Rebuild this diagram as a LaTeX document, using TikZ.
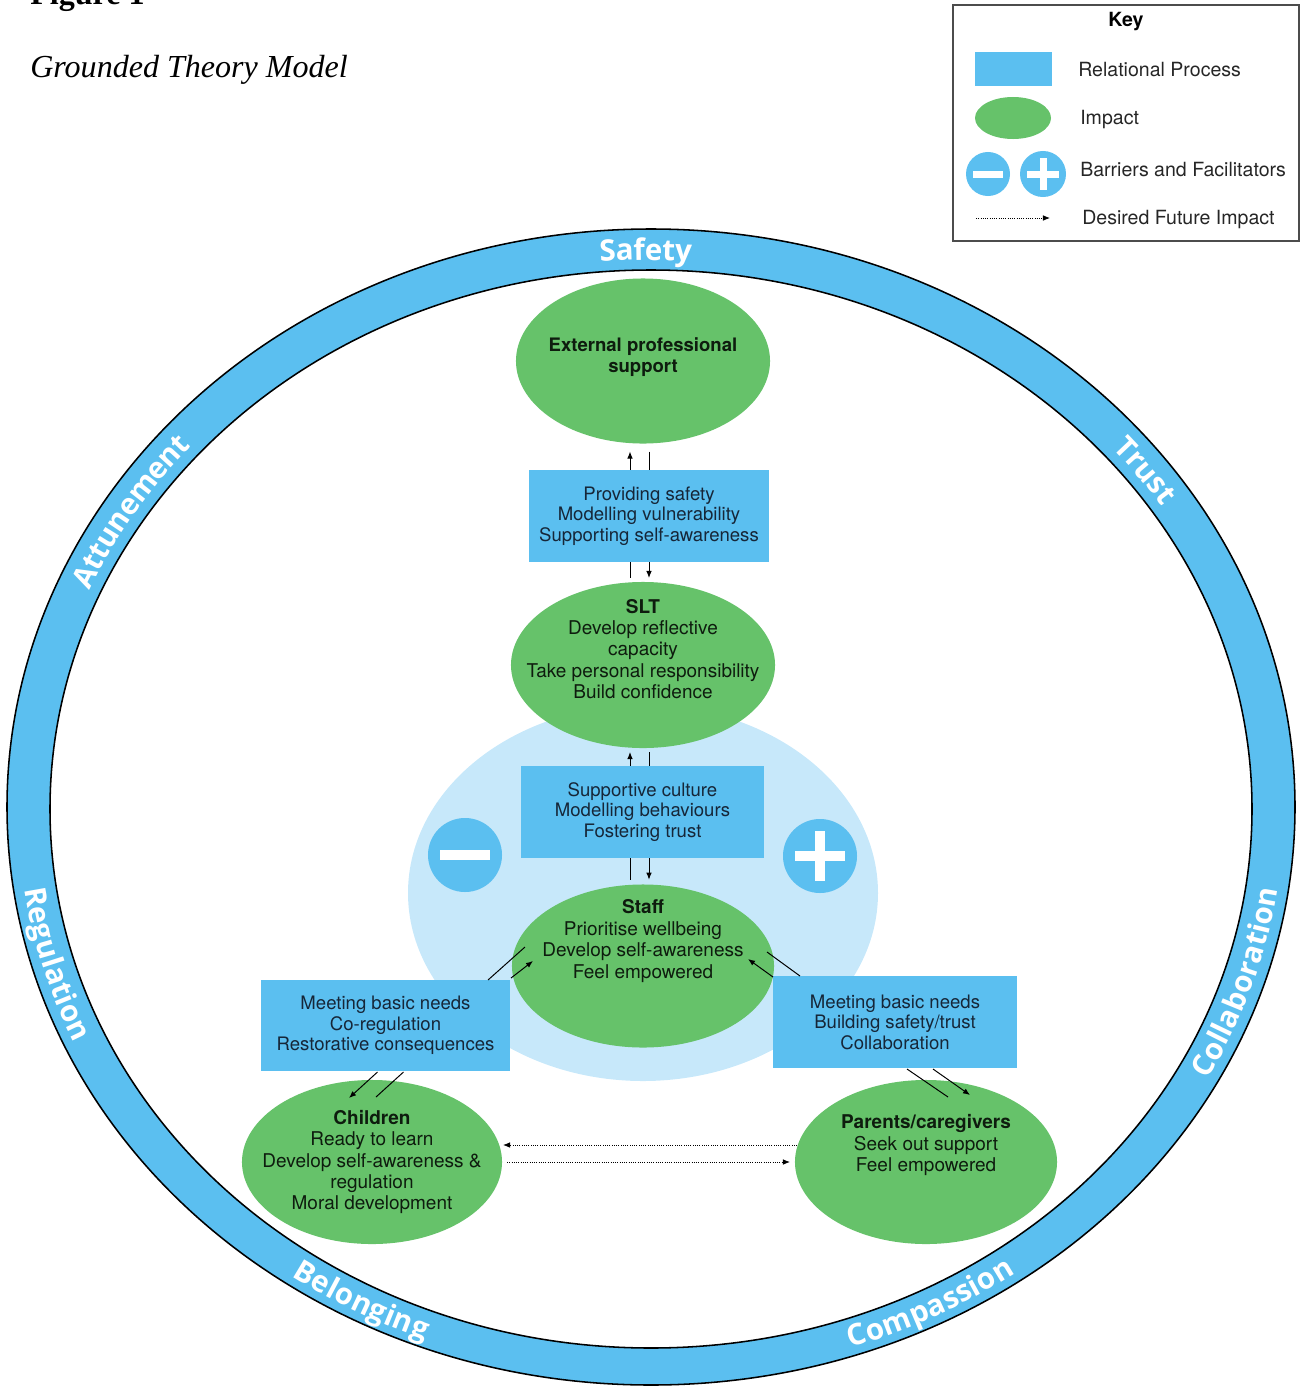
\documentclass[tikz,border=0pt]{standalone}
\usepackage{fontspec}
\setmainfont{Liberation Serif}
\newfontfamily\diagfont{TeX Gyre Heros}
\newfontfamily\ringfont{Open Sans}
\usetikzlibrary{shapes.geometric, arrows.meta, calc, decorations.text}

\definecolor{relblue}{RGB}{91,191,240}
\definecolor{paleblue}{RGB}{199,232,250}
\definecolor{impgreen}{RGB}{102,194,106}
\definecolor{boxink}{RGB}{22,38,56}
\definecolor{impink}{RGB}{14,28,14}

\newcommand{\boxtype}{\diagfont\fontsize{13.2}{14.6}\selectfont}
\newcommand{\imptype}{\diagfont\fontsize{13.5}{15.2}\selectfont}
\newcommand{\keytype}{\diagfont\fontsize{13.9}{15}\selectfont}
\newcommand{\ringtype}{\ringfont\bfseries\fontsize{21}{21}\selectfont\color{white}}

\tikzstyle{process}=[rectangle, fill=relblue, inner sep=0, outer sep=0,
	text=boxink, align=center, font=\boxtype]
\tikzstyle{impact}=[ellipse, fill=impgreen, inner sep=0, outer sep=0]
\tikzstyle{imptext}=[text=impink, align=center, font=\imptype]
\tikzstyle{barrier}=[circle, fill=relblue, inner sep=0, outer sep=0]
\tikzstyle{keylabel}=[anchor=west, inner sep=0, font=\keytype, text=black!85]
\tikzstyle{flow}=[line width=0.7pt, -{Latex[length=5pt, width=4pt]}]
\tikzstyle{link}=[line width=0.7pt]
\tikzstyle{future}=[densely dotted, line width=0.6pt, -{Latex[length=5pt, width=4pt]}]
\tikzset{ringword/.style={decorate, decoration={text along path,
	text={|\ringtype|#1}, text align=center, raise=-7.5pt}}}

\begin{document}
\begin{tikzpicture}[x=0.025cm, y=-0.025cm]
	\useasboundingbox (0,0) rectangle (1302,1387);
	\clip (0,0) rectangle (1302,1387);

	% heading
	\node[anchor=base west, inner sep=0, font=\bfseries\fontsize{22.8}{28}\selectfont] (fignum) at (30,5) {Figure 1};
	\node[anchor=base west, inner sep=0, font=\itshape\fontsize{22.8}{28}\selectfont] (figtitle) at (30,77) {Grounded Theory Model};

	% key
	\draw[draw=black!70, line width=0.8pt] (953,5) rectangle (1299,241);
	\node[font=\keytype\bfseries] (keyhead) at (1126,22) {Key};
	\node[process, minimum width=1.925cm, minimum height=0.85cm] (keyproc) at (1013.5,69) {};
	\node[impact, minimum width=1.9cm, minimum height=1.05cm] (keyimp) at (1013,118) {};
	\node[barrier, minimum size=1.1cm] (keyminus) at (988,174) {};
	\node[barrier, minimum size=1.15cm] (keyplus) at (1043,174) {};
	\fill[white] ($(keyminus)+(-15,-3.5)$) rectangle ($(keyminus)+(15,3.5)$);
	\fill[white] ($(keyplus)+(-16,-3.5)$) rectangle ($(keyplus)+(16,3.5)$);
	\fill[white] ($(keyplus)+(-3.5,-16)$) rectangle ($(keyplus)+(3.5,16)$);
	\coordinate (keyfrom) at (976,218);
	\coordinate (keyto) at (1050,218);
	\draw[future] (keyfrom) -- (keyto);
	\node[keylabel] (keyproct) at (1078,70) {Relational Process};
	\node[keylabel] (keyimpt) at (1080,120) {Impact};
	\node[keylabel] (keybart) at (1080,170) {Barriers and Facilitators};
	\node[keylabel] (keyfutt) at (1082,220) {Desired Future Impact};

	% outer ring of values
	\fill[relblue, even odd rule] (651,807) ellipse [x radius=644, y radius=578]
		(651,809) ellipse [x radius=601, y radius=539];
	\draw[line width=1.1pt] (651,807) ellipse [x radius=644, y radius=578];
	\draw[line width=1.1pt] (651,809) ellipse [x radius=601, y radius=539];

	\path[ringword=Safety] (651,808) ++(254:622.5 and 558.5)
		arc [start angle=254, end angle=285, x radius=622.5, y radius=558.5];
	\path[ringword=Trust] (651,808) ++(305:622.5 and 558.5)
		arc [start angle=305, end angle=341, x radius=622.5, y radius=558.5];
	\path[ringword=Attunement] (651,808) ++(188:622.5 and 558.5)
		arc [start angle=188, end angle=236, x radius=622.5, y radius=558.5];
	\path[ringword=Regulation] (651,808) ++(187:622.5 and 558.5)
		arc [start angle=187, end angle=141, x radius=622.5, y radius=558.5];
	\path[ringword=Collaboration] (651,808) ++(44:622.5 and 558.5)
		arc [start angle=44, end angle=-8, x radius=622.5, y radius=558.5];
	\path[ringword=Belonging] (651,808) ++(136:622.5 and 558.5)
		arc [start angle=136, end angle=100, x radius=622.5, y radius=558.5];
	\path[ringword=Compassion] (651,808) ++(81:622.5 and 558.5)
		arc [start angle=81, end angle=45, x radius=622.5, y radius=558.5];

	% school core
	\fill[paleblue] (643,893) ellipse [x radius=235, y radius=188];
	\node[barrier, minimum size=1.85cm] (minus) at (465,855) {};
	\node[barrier, minimum size=1.85cm] (plus) at (820,856) {};
	\fill[white] ($(minus)+(-25,-5)$) rectangle ($(minus)+(25,5)$);
	\fill[white] ($(plus)+(-25,-5)$) rectangle ($(plus)+(25,5)$);
	\fill[white] ($(plus)+(-5,-25)$) rectangle ($(plus)+(5,25)$);

	% relational processes
	\node[process, minimum width=6cm, minimum height=2.3cm] (safetybox) at (649,516)
		{Providing safety\\Modelling vulnerability\\Supporting self-awareness};
	\node[process, minimum width=6.075cm, minimum height=2.3cm] (culturebox) at (642.5,812)
		{Supportive culture\\Modelling behaviours\\Fostering trust};
	\node[process, minimum width=6.225cm, minimum height=2.275cm] (kidsbox) at (385.5,1025.5)
		{Meeting basic needs\\Co-regulation\\Restorative consequences};
	\node[process, minimum width=6.1cm, minimum height=2.3cm] (carerbox) at (895,1022)
		{Meeting basic needs\\Building safety/trust\\Collaboration};

	% impacts
	\node[impact, minimum width=6.35cm, minimum height=4.125cm] (extsupport) at (643,361) {};
	\node[impact, minimum width=6.6cm, minimum height=4.15cm] (slt) at (643,665) {};
	\node[impact, minimum width=6.55cm, minimum height=4.075cm] (staff) at (643,966) {};
	\node[impact, minimum width=6.5cm, minimum height=4.1cm] (kids) at (372,1162) {};
	\node[impact, minimum width=6.55cm, minimum height=4.1cm] (carers) at (926,1162) {};

	\node[imptext, font=\boxtype\bfseries] (extsupportt) at (643,357) {External professional\\support};
	\node[imptext] (sltt) at (643,649)
		{\textbf{SLT}\\Develop reflective\\capacity\\Take personal responsibility\\Build confidence};
	\node[imptext] (stafft) at (643,941)
		{\textbf{Staff}\\Prioritise wellbeing\\Develop self-awareness\\Feel empowered};
	\node[imptext] (kidst) at (372,1162)
		{\textbf{Children}\\Ready to learn\\Develop self-awareness \&\\regulation\\Moral development};
	\node[imptext] (carerst) at (926,1145)
		{\textbf{Parents/caregivers}\\Seek out support\\Feel empowered};

	% up and down lanes of the spine
	\coordinate (up) at (630,0);
	\coordinate (down) at (649,0);
	\draw[flow, shorten >=0.2cm] (safetybox.north -| up) -- (extsupport.south -| up);
	\draw[link, shorten <=0.2cm] (extsupport.south -| down) -- (safetybox.north -| down);
	\draw[link, shorten >=0.1cm] (safetybox.south -| up) -- (slt.north -| up);
	\draw[flow, shorten >=0.1cm] (safetybox.south -| down) -- (slt.north -| down);
	\draw[flow, shorten >=0.1cm] (culturebox.north -| up) -- (slt.south -| up);
	\draw[link, shorten <=0.1cm] (slt.south -| down) -- (culturebox.north -| down);
	\draw[link, shorten >=0.12cm] (culturebox.south -| up) -- (staff.north -| up);
	\draw[flow, shorten >=0.12cm] (culturebox.south -| down) -- (staff.north -| down);

	% side branches
	\draw[link] ($(kidsbox.north east)+(-22,0)$) -- ($(staff.center)+(-118,-19)$);
	\draw[flow] ($(kidsbox.north east)+(1,-2)$) -- ($(staff.center)+(-110,-5)$);
	\draw[link] ($(carerbox.north west)+(27,0)$) -- ($(staff.center)+(124,-14)$);
	\draw[flow] ($(carerbox.north west)+(0,1)$) -- ($(staff.center)+(105,-7)$);
	\draw[flow] ($(kidsbox.south)+(-8,1)$) -- ($(kids.center)+(-23,-64)$);
	\draw[link] ($(kidsbox.south)+(18,1)$) -- ($(kids.center)+(4,-65)$);
	\draw[link] ($(carerbox.south)+(12,1)$) -- ($(carers.center)+(22,-65)$);
	\draw[flow] ($(carerbox.south)+(38,1)$) -- ($(carers.center)+(44,-67)$);

	% hoped-for links between home and school
	\draw[future] ($(carers.west)+(2,-17)$) -- ($(kids.east)+(1,-17)$);
	\draw[future] ($(kids.east)+(5,0)$) -- ($(carers.west)+(-5,0)$);
\end{tikzpicture}
\end{document}
